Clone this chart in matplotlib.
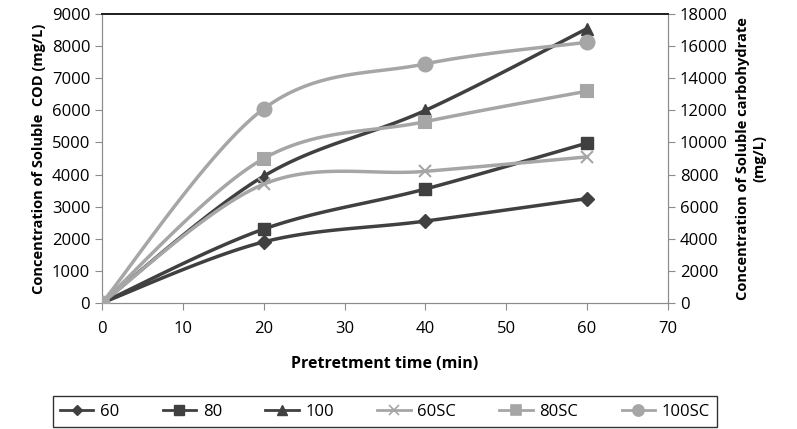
import numpy as np
import matplotlib.pyplot as plt

# pretreatment time (min)
time = [0, 20, 40, 60]

# soluble COD (mg/L), left axis
cod_60 = [0, 1900, 2550, 3250]
cod_80 = [0, 2300, 3550, 4980]
cod_100 = [0, 3950, 6000, 8550]

# soluble carbohydrate (mg/L), right axis
sc_60 = [0, 7400, 8200, 9100]
sc_80 = [0, 9000, 11300, 13200]
sc_100 = [0, 12100, 14900, 16250]

labels = ['60', '80', '100', '60SC', '80SC', '100SC']


def smooth(x, y, n=40):
    """Excel-like smoothed line (Catmull-Rom through the points)"""
    x = np.asarray(x, float)
    y = np.asarray(y, float)
    px = np.concatenate([[x[0]], x, [x[-1]]])
    py = np.concatenate([[y[0]], y, [y[-1]]])
    xs, ys = [], []
    t = np.linspace(0, 1, n)
    for i in range(1, len(px) - 2):
        p0, p1, p2, p3 = (np.array([px[j], py[j]]) for j in (i - 1, i, i + 1, i + 2))
        c1 = p1 + (p2 - p0) / 6
        c2 = p2 - (p3 - p1) / 6
        pts = ((1 - t) ** 3)[:, None] * p1 + (3 * (1 - t) ** 2 * t)[:, None] * c1 \
            + (3 * (1 - t) * t ** 2)[:, None] * c2 + (t ** 3)[:, None] * p2
        xs.extend(pts[:, 0])
        ys.extend(pts[:, 1])
    return xs, ys


dark = '#404040'
light = '#a6a6a6'
plt.rcParams['font.family'] = ['Open Sans', 'DejaVu Sans']

fig = plt.figure(figsize=(7.97, 4.29), dpi=100)
ax = fig.add_axes([0.128, 0.294, 0.71, 0.673])
ax2 = ax.twinx()

handles = []
for y, m, ms in [(cod_60, 'D', 7), (cod_80, 's', 9), (cod_100, '^', 9)]:
    sx, sy = smooth(time, y)
    ax.plot(sx, sy, color=dark, lw=2.5, zorder=3)
    ax.plot(time, y, ls='none', marker=m, ms=ms, color=dark, zorder=4)
    h, = ax.plot([], [], color=dark, lw=2, marker=m, ms=ms - 2)
    handles.append(h)

for y, m, ms in [(sc_60, 'x', 9), (sc_80, 's', 9), (sc_100, 'o', 10)]:
    sx, sy = smooth(time, y)
    ax2.plot(sx, sy, color=light, lw=2.5, zorder=3)
    ax2.plot(time, y, ls='none', marker=m, ms=ms, color=light, mew=1.5, zorder=4)
    h, = ax2.plot([], [], color=light, lw=2, marker=m, ms=ms - 2, mew=1.2)
    handles.append(h)

ax.set_xlim(0, 70)
ax.set_ylim(0, 9000)
ax2.set_ylim(0, 18000)
ax.set_xticks(range(0, 71, 10))
ax.set_yticks(range(0, 9001, 1000))
ax2.set_yticks(range(0, 18001, 2000))

for a in (ax, ax2):
    for s in ('left', 'right', 'bottom'):
        a.spines[s].set_color('#8c8c8c')
    a.spines['top'].set_color('#202020')
    a.spines['top'].set_linewidth(1.3)
    a.tick_params(colors='#8c8c8c', labelcolor='black', labelsize=12, length=5)
ax.tick_params(axis='x', pad=8)

ax.set_xlabel('Pretretment time (min)', fontsize=11.5, fontweight='bold', labelpad=14)
ax.set_ylabel('Concentration of Soluble  COD (mg/L)', fontsize=10.5, fontweight='bold', labelpad=4)
ax2.set_ylabel('Concentration of Soluble carbohydrate\n(mg/L)', fontsize=10.5,
               fontweight='bold', labelpad=6)

leg = fig.legend(handles, labels, loc='lower center', bbox_to_anchor=(0.483, 0.0),
                 ncol=6, frameon=True, fancybox=False, fontsize=12,
                 handlelength=2.0, handletextpad=0.4, columnspacing=2.6, borderpad=0.45,
                 borderaxespad=0.1)
leg.get_frame().set_edgecolor('black')
leg.get_frame().set_linewidth(1.0)

fig.savefig('out.png', dpi=100)
